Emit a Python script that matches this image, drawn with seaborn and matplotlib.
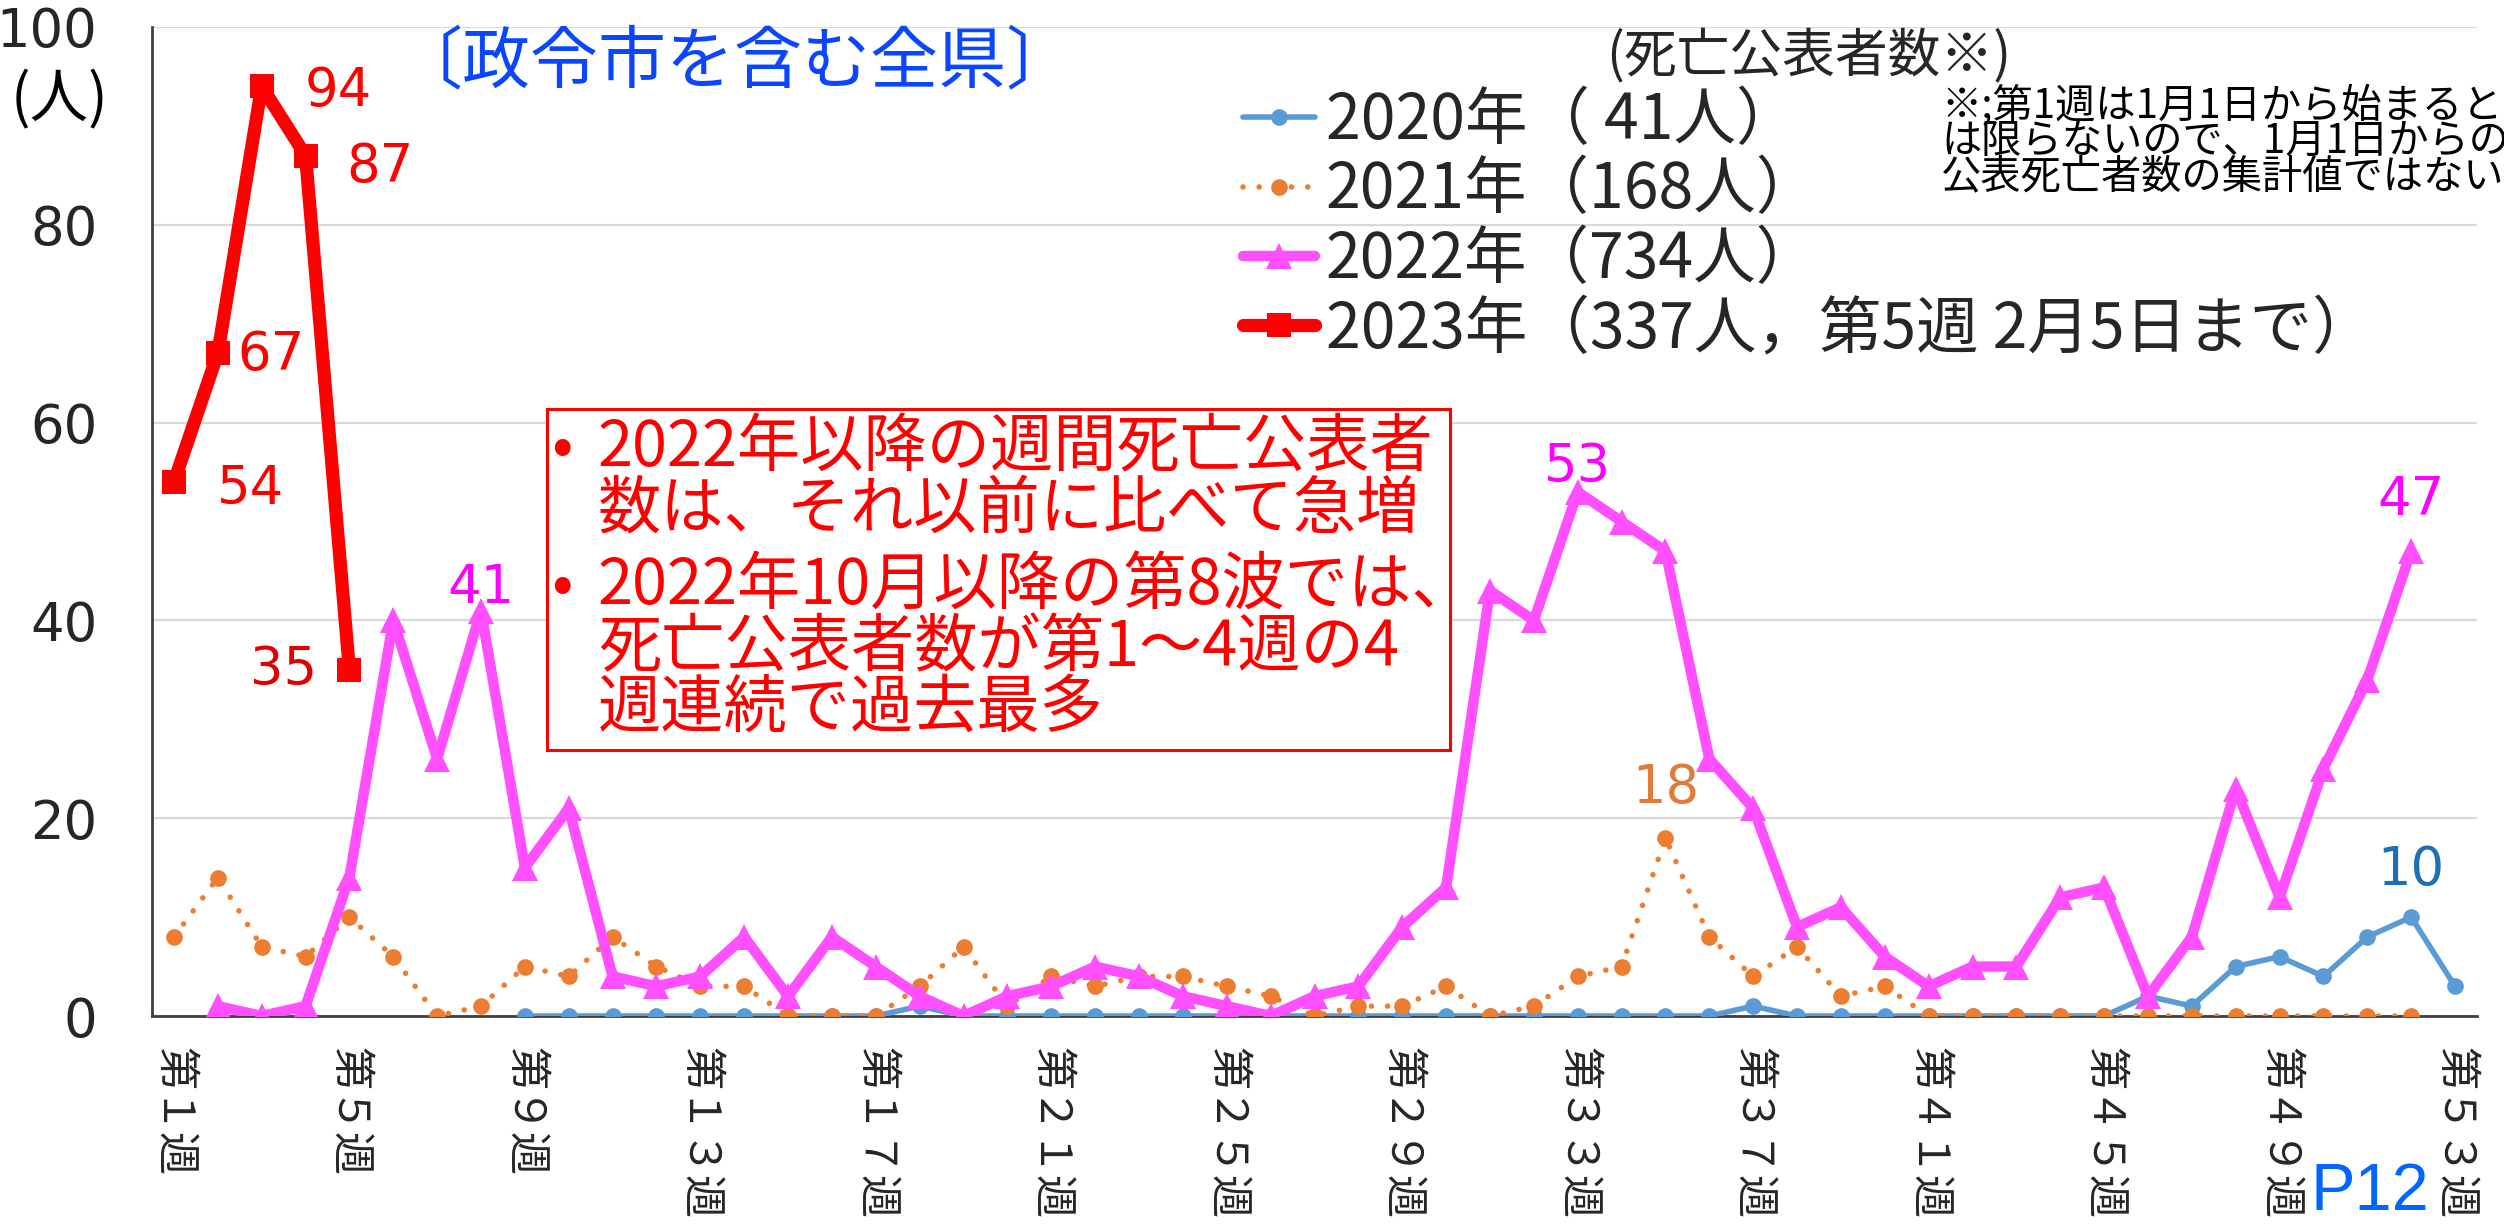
import numpy as np
import pandas as pd
import matplotlib
matplotlib.use("Agg")
import matplotlib.pyplot as plt
import seaborn as sns
from matplotlib.patches import Rectangle
from matplotlib.ticker import FixedLocator
from matplotlib.font_manager import FontProperties

# ---------------- data ----------------
weeks_2020 = list(range(9, 54))
deaths_2020 = [0, 0, 0, 0, 0, 0, 0, 0, 0, 1,
               0, 0, 0, 0, 0, 0, 0, 0, 0, 0, 0, 0, 0, 0, 0, 0, 0, 0,
               1, 0, 0, 0, 0, 0, 0, 0, 0,
               2, 1, 5, 6, 4, 8, 10, 3]

weeks_2021 = list(range(1, 53))
deaths_2021 = [8, 14, 7, 6, 10, 6, 0, 1, 5, 4,
               8, 5, 3, 3, 0, 0, 0, 3, 7, 1,
               4, 3, 4, 4, 3, 2, 0, 1, 1, 3,
               0, 1, 4, 5, 18, 8, 4, 7, 2, 3,
               0, 0, 0, 0, 0, 0, 0, 0, 0, 0, 0, 0]

weeks_2022 = list(range(2, 53))
deaths_2022 = [1, 0, 1, 14, 40, 26, 41, 15, 21, 4,
               3, 4, 8, 2, 8, 5, 2, 0, 2, 3,
               5, 4, 2, 1, 0, 2, 3, 9, 13, 43,
               40, 53, 50, 47, 26, 21, 9, 11, 6, 3,
               5, 5, 12, 13, 2, 8, 23, 12, 25, 34,
               47]

weeks_2023 = [1, 2, 3, 4, 5]
deaths_2023 = [54, 67, 94, 87, 35]

legend_labels = ["2020年（ 41人）", "2021年（168人）", "2022年（734人）",
                 "2023年（337人，第5週 2月5日まで）"]
legend_title = "(死亡公表者数※)"

tick_weeks = [1, 5, 9, 13, 17, 21, 25, 29, 33, 37, 41, 45, 49, 53]
tick_labels = ["第１週", "第５週", "第９週", "第１３週", "第１７週", "第２１週", "第２５週",
               "第２９週", "第３３週", "第３７週", "第４１週", "第４５週", "第４９週", "第５３週"]
y_ticks = [0, 20, 40, 60, 80, 100]

title_text = "〔政令市を含む全県〕"
unit_text = "(人)"
note_lines = ["※;第1週は1月1日から始まると",
              "は限らないので、1月1日からの",
              "公表死亡者数の集計値ではない"]
box_lines = ["2022年以降の週間死亡公表者",
             "数は、それ以前に比べて急増",
             "2022年10月以降の第8波では、",
             "死亡公表者数が第1～4週の4",
             "週連続で過去最多"]

# ---------------- style ----------------
sns.set_style("white")
plt.rcParams["font.family"] = ["Noto Sans CJK JP", "DejaVu Sans"]
cjk = ["Noto Sans CJK JP", "DejaVu Sans"]

C20 = "#5B9BD5"
C21 = "#ED7D31"
C22 = "#FF4FFF"
C23 = "#FF0000"

W, H = 2504, 1225
fig = plt.figure(figsize=(W / 100, H / 100), dpi=100)


def fx(px):
    return px / W


def fy(py):
    return 1 - py / H


ax = fig.add_axes([fx(152), fy(1016), fx(2477) - fx(152), fy(27) - fy(1016)])

df20 = pd.DataFrame({"week": weeks_2020, "deaths": deaths_2020})
df21 = pd.DataFrame({"week": weeks_2021, "deaths": deaths_2021})
df22 = pd.DataFrame({"week": weeks_2022, "deaths": deaths_2022})
df23 = pd.DataFrame({"week": weeks_2023, "deaths": deaths_2023})

sns.lineplot(data=df20, x="week", y="deaths", ax=ax, color=C20, linewidth=4,
             marker="o", markersize=12, markeredgewidth=0, errorbar=None,
             label=legend_labels[0], zorder=3)
sns.lineplot(data=df21, x="week", y="deaths", ax=ax, color=C21, linewidth=4,
             linestyle=(0, (0.01, 2.9)), dash_capstyle="round",
             marker="o", markersize=12, markeredgewidth=0, errorbar=None,
             label=legend_labels[1], zorder=4)
sns.lineplot(data=df22, x="week", y="deaths", ax=ax, color=C22, linewidth=7.5,
             marker="^", markersize=19, markeredgewidth=0, errorbar=None,
             label=legend_labels[2], zorder=5)
sns.lineplot(data=df23, x="week", y="deaths", ax=ax, color=C23, linewidth=9.5,
             marker="s", markersize=17, markeredgewidth=0, errorbar=None,
             label=legend_labels[3], zorder=6)

# axes
ax.set_xlim(0.5, 53.5)
ax.set_ylim(0, 100)
ax.set_xlabel("")
ax.set_ylabel("")
for s in ["top", "right"]:
    ax.spines[s].set_visible(False)
for s in ["left", "bottom"]:
    ax.spines[s].set_color("#404040")
    ax.spines[s].set_linewidth(2)
ax.set_axisbelow(True)
ax.yaxis.grid(True, color="#D9D9D9", linewidth=1.6)
ax.xaxis.grid(False)

ax.xaxis.set_major_locator(FixedLocator(tick_weeks))
ax.set_xticklabels(tick_labels, rotation=270, fontsize=31, family=cjk)
ax.xaxis.set_minor_locator(FixedLocator(np.arange(0.5, 54, 1.0)))
ax.tick_params(axis="x", which="major", length=0, pad=22)
ax.tick_params(axis="x", which="minor", length=10, width=1.6, color="#202020",
               direction="out")

ax.yaxis.set_major_locator(FixedLocator(y_ticks))
ax.set_yticklabels([str(v) for v in y_ticks], fontsize=38, family="DejaVu Sans")
ax.yaxis.set_minor_locator(FixedLocator([10, 30, 50, 70, 90]))
ax.tick_params(axis="y", which="major", length=29, width=1.6, color="#404040",
               direction="inout", pad=25)
ax.tick_params(axis="y", which="minor", length=16, width=1.6, color="#404040",
               direction="out")

# data labels
lab_kw = dict(textcoords="offset points", fontsize=38, family="DejaVu Sans",
              va="center")
ax.annotate(str(deaths_2023[0]), xy=(weeks_2023[0], deaths_2023[0]), xytext=(31, -5),
            color=C23, ha="left", **lab_kw)
ax.annotate(str(deaths_2023[1]), xy=(weeks_2023[1], deaths_2023[1]), xytext=(14, -1.5),
            color=C23, ha="left", **lab_kw)
ax.annotate(str(deaths_2023[2]), xy=(weeks_2023[2], deaths_2023[2]), xytext=(31, -3.6),
            color=C23, ha="left", **lab_kw)
ax.annotate(str(deaths_2023[3]), xy=(weeks_2023[3], deaths_2023[3]), xytext=(29.5, -8.2),
            color=C23, ha="left", **lab_kw)
ax.annotate(str(deaths_2023[4]), xy=(weeks_2023[4], deaths_2023[4]), xytext=(-23, 0),
            color="#E00000", ha="right", **lab_kw)

i41 = weeks_2022.index(8)
ax.annotate(str(deaths_2022[i41]), xy=(weeks_2022[i41], deaths_2022[i41]), xytext=(0, 16),
            color="#FF00FF", ha="center", **lab_kw)
i53 = weeks_2022.index(33)
ax.annotate(str(deaths_2022[i53]), xy=(weeks_2022[i53], deaths_2022[i53]), xytext=(0, 18),
            color="#FF00FF", ha="center", **lab_kw)
i47 = weeks_2022.index(52)
ax.annotate(str(deaths_2022[i47]), xy=(weeks_2022[i47], deaths_2022[i47]), xytext=(0, 37),
            color="#FF00FF", ha="center", **lab_kw)
i18 = weeks_2021.index(35)
ax.annotate(str(deaths_2021[i18]), xy=(weeks_2021[i18], deaths_2021[i18]), xytext=(0, 36),
            color="#E07B39", ha="center", **lab_kw)
i10 = weeks_2020.index(52)
ax.annotate(str(deaths_2020[i10]), xy=(weeks_2020[i10], deaths_2020[i10]), xytext=(0, 34),
            color="#1F6FB8", ha="center", **lab_kw)

# legend
handles, _ = ax.get_legend_handles_labels()
leg = ax.legend(handles, legend_labels, loc="upper left",
                bbox_to_anchor=(fx(1236), fy(22)), bbox_transform=fig.transFigure,
                frameon=False,
                prop=FontProperties(family=cjk, size=45),
                title=legend_title,
                title_fontproperties=FontProperties(family=cjk, size=38),
                handlelength=1.15, handletextpad=0.18, labelspacing=0.085,
                borderpad=0.11, borderaxespad=0)
leg.set_zorder(10)

# text elements
fig.text(fx(735), fy(64), title_text, color="#0A46FF", fontsize=49, family=cjk,
         ha="center", va="center")

fig.text(fx(60), fy(101), unit_text, color="black", fontsize=42, family=cjk,
         ha="center", va="center")

for line, yc in zip(note_lines, [105, 141, 177]):
    fig.text(fx(1941), fy(yc), line, color="black", fontsize=29, family=cjk,
             ha="left", va="center")

# annotation box
rect = Rectangle((fx(547), fy(750)), fx(1450) - fx(547), fy(409) - fy(750),
                 transform=fig.transFigure, facecolor="white", edgecolor="#FF0000",
                 linewidth=2.2, zorder=8)
fig.add_artist(rect)
box_y = [448, 509, 586, 648, 709]
for line, yc in zip(box_lines, box_y):
    fig.text(fx(598), fy(yc), line, color="#FF0000", fontsize=45.5, family=cjk,
             ha="left", va="center", zorder=9)
for yc in [box_y[0], box_y[2]]:
    fig.text(fx(562), fy(yc), "•", color="#FF0000", fontsize=45.5, family=cjk,
             ha="center", va="center", zorder=9)

fig.text(fx(2310), fy(1224), "P12", color="#0066FF", fontsize=48,
         family="Liberation Sans", ha="left", va="bottom")

fig.savefig("out.png", dpi=100)
